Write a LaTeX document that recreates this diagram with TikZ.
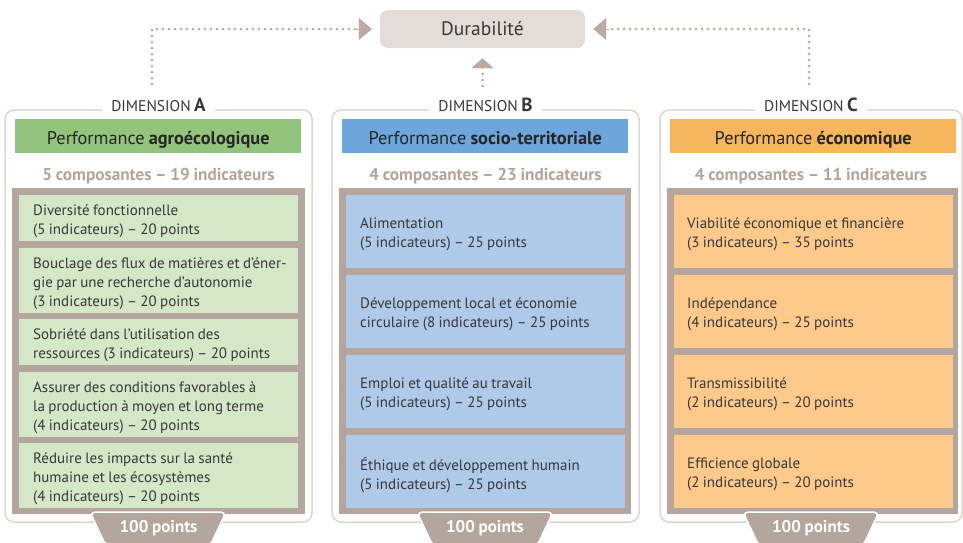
\documentclass[tikz,border=0pt]{standalone}
\usepackage{fontspec}
\setmainfont{PT Sans}[WordSpace=0.85]
\usetikzlibrary{arrows.meta,calc}
\definecolor{frameb}{HTML}{B5A69D}
\definecolor{outerl}{HTML}{DED6D1}
\definecolor{subt}{HTML}{B3A59B}
\definecolor{durfill}{HTML}{E3DCD8}
\definecolor{dotc}{HTML}{B9ABA3}
\definecolor{gtitle}{HTML}{93C47D}
\definecolor{gcell}{HTML}{D4E8C8}
\definecolor{btitle}{HTML}{6CA6DA}
\definecolor{bcell}{HTML}{AFC9E9}
\definecolor{otitle}{HTML}{F6B65E}
\definecolor{ocell}{HTML}{FDCA8C}
\definecolor{txt}{HTML}{383838}
\tikzset{
  panel/.style={draw=outerl, line width=1.5pt, fill=white, rounded corners=9pt},
  dimlabel/.style={fill=white, inner xsep=9pt, inner ysep=2pt, text=txt, font=\fontsize{15.5}{17}\selectfont},
  titlebar/.style={anchor=north west, minimum width=286pt, minimum height=34pt, inner sep=0pt, text height=17pt, text depth=0pt, text=black!85, font=\fontsize{18.3}{20}\selectfont},
  subtitle/.style={text=subt, font=\bfseries\fontsize{17.2}{19}\selectfont},
  cellbox/.style={anchor=north west, inner sep=0pt, minimum width=279pt},
  celltext/.style={anchor=west, inner sep=0pt, align=left, text=txt, font=\fontsize{15}{19}\selectfont},
  tabtext/.style={text=white, font=\bfseries\fontsize{17}{18}\selectfont},
  tabshape/.style={fill=frameb, draw=white, line width=1.5pt, rounded corners=5pt},
  dotline/.style={draw=dotc, line width=3pt, line cap=round, dash pattern=on 0pt off 6pt},
  sidetip/.style={-{Triangle[length=13pt,width=22pt,fill=dotc]}},
  midtip/.style={-{Triangle[length=10pt,width=22pt,fill=dotc]}},
  durbox/.style={fill=durfill, rounded corners=8pt, minimum width=205pt, minimum height=38pt, text=txt, font=\fontsize{19.5}{21}\selectfont},
}
\newcommand{\dimletter}[1]{\textbf{\fontsize{19}{20}\selectfont #1}}
\begin{document}
\begin{tikzpicture}[x=1pt,y=-1pt]
\useasboundingbox (0,0) rectangle (963,542);

% Durabilite
\node[durbox] (dur) at (482.5,29) {Durabilité};

% connectors
\coordinate (aup) at (152,84);
\coordinate (acorner) at (152,29);
\coordinate (cup) at (809,84);
\coordinate (ccorner) at (809,29);
\coordinate (bup) at (482.5,86);
\draw[dotline] (aup) -- (acorner) -- (358,29);
\draw[dotline] (cup) -- (ccorner) -- (607,29);
\draw[dotline] (bup) -- (482.5,69);
\draw[dotc, sidetip] (356,29) -- ($(dur.west)+(-8,0)$);
\draw[dotc, sidetip] (609,29) -- ($(dur.east)+(8,0)$);
\draw[dotc, midtip] (482.5,68) -- ($(dur.south)+(0,10)$);

% ---------- Panel A ----------
\draw[panel] (5,110) rectangle (312,522);
\node[dimlabel] (dimA) at (158.5,105) {DIMENSION \dimletter{A}};
\node[titlebar, fill=gtitle] (titA) at (15,119) {Performance \textbf{agroécologique}};
\node[subtitle] (subA) at (158.5,176) {5 composantes – 19 indicateurs};
\fill[frameb] (12,188) rectangle (305,514);
\path[tabshape] (90,512) -- (226,512) -- (210,546) -- (106,546) -- cycle;
\node[tabtext] (tabA) at (158.5,528) {100 points};
\node[cellbox, fill=gcell, minimum height=46pt] (a1) at (19,195) {};
\node[cellbox, fill=gcell, minimum height=65pt] (a2) at (19,248) {};
\node[cellbox, fill=gcell, minimum height=46pt] (a3) at (19,319) {};
\node[cellbox, fill=gcell, minimum height=65pt] (a4) at (19,372) {};
\node[cellbox, fill=gcell, minimum height=65pt] (a5) at (19,443) {};
\node[celltext] (ta1) at ([xshift=14pt,yshift=-3pt]a1.west) {Diversité fonctionnelle\\(5 indicateurs) – 20 points};
\node[celltext] (ta2) at ([xshift=14pt,yshift=-3pt]a2.west) {Bouclage des flux de matières et d’éner-\\gie par une recherche d’autonomie\\(3 indicateurs) – 20 points};
\node[celltext] (ta3) at ([xshift=14pt,yshift=-3pt]a3.west) {Sobriété dans l’utilisation des\\ressources (3 indicateurs) – 20 points};
\node[celltext] (ta4) at ([xshift=14pt,yshift=-3pt]a4.west) {Assurer des conditions favorables à\\la production à moyen et long terme\\(4 indicateurs) – 20 points};
\node[celltext] (ta5) at ([xshift=14pt,yshift=-3pt]a5.west) {Réduire les impacts sur la santé\\humaine et les écosystèmes\\(4 indicateurs) – 20 points};

% ---------- Panel B ----------
\draw[panel] (332,110) rectangle (639,522);
\node[dimlabel] (dimB) at (485.5,105) {DIMENSION \dimletter{B}};
\node[titlebar, fill=btitle] (titB) at (342,119) {Performance \textbf{socio-territoriale}};
\node[subtitle] (subB) at (485.5,176) {4 composantes – 23 indicateurs};
\fill[frameb] (339,188) rectangle (631,514);
\path[tabshape] (417,512) -- (553,512) -- (537,546) -- (433,546) -- cycle;
\node[tabtext] (tabB) at (485,528) {100 points};
\node[cellbox, fill=bcell, minimum height=73pt] (b1) at (346,195) {};
\node[cellbox, fill=bcell, minimum height=73pt] (b2) at (346,275) {};
\node[cellbox, fill=bcell, minimum height=73pt] (b3) at (346,355) {};
\node[cellbox, fill=bcell, minimum height=73pt] (b4) at (346,435) {};
\node[celltext] (tb1) at ([xshift=14pt,yshift=-3pt]b1.west) {Alimentation\\(5 indicateurs) – 25 points};
\node[celltext] (tb2) at ([xshift=14pt,yshift=-3pt]b2.west) {Développement local et économie\\circulaire (8 indicateurs) – 25 points};
\node[celltext] (tb3) at ([xshift=14pt,yshift=-3pt]b3.west) {Emploi et qualité au travail\\(5 indicateurs) – 25 points};
\node[celltext] (tb4) at ([xshift=14pt,yshift=-3pt]b4.west) {Éthique et développement humain\\(5 indicateurs) – 25 points};

% ---------- Panel C ----------
\draw[panel] (660,110) rectangle (962,522);
\node[dimlabel] (dimC) at (811,105) {DIMENSION \dimletter{C}};
\node[titlebar, fill=otitle] (titC) at (670,119) {Performance \textbf{économique}};
\node[subtitle] (subC) at (811,176) {4 composantes – 11 indicateurs};
\fill[frameb] (667,188) rectangle (958,514);
\path[tabshape] (743,512) -- (879,512) -- (863,546) -- (759,546) -- cycle;
\node[tabtext] (tabC) at (811,528) {100 points};
\node[cellbox, fill=ocell, minimum height=73pt] (c1) at (674,195) {};
\node[cellbox, fill=ocell, minimum height=73pt] (c2) at (674,275) {};
\node[cellbox, fill=ocell, minimum height=73pt] (c3) at (674,355) {};
\node[cellbox, fill=ocell, minimum height=73pt] (c4) at (674,435) {};
\node[celltext] (tc1) at ([xshift=13pt,yshift=-3pt]c1.west) {Viabilité économique et financière\\(3 indicateurs) – 35 points};
\node[celltext] (tc2) at ([xshift=13pt,yshift=-3pt]c2.west) {Indépendance\\(4 indicateurs) – 25 points};
\node[celltext] (tc3) at ([xshift=13pt,yshift=-3pt]c3.west) {Transmissibilité\\(2 indicateurs) – 20 points};
\node[celltext] (tc4) at ([xshift=13pt,yshift=-3pt]c4.west) {Efficience globale\\(2 indicateurs) – 20 points};
\end{tikzpicture}
\end{document}
